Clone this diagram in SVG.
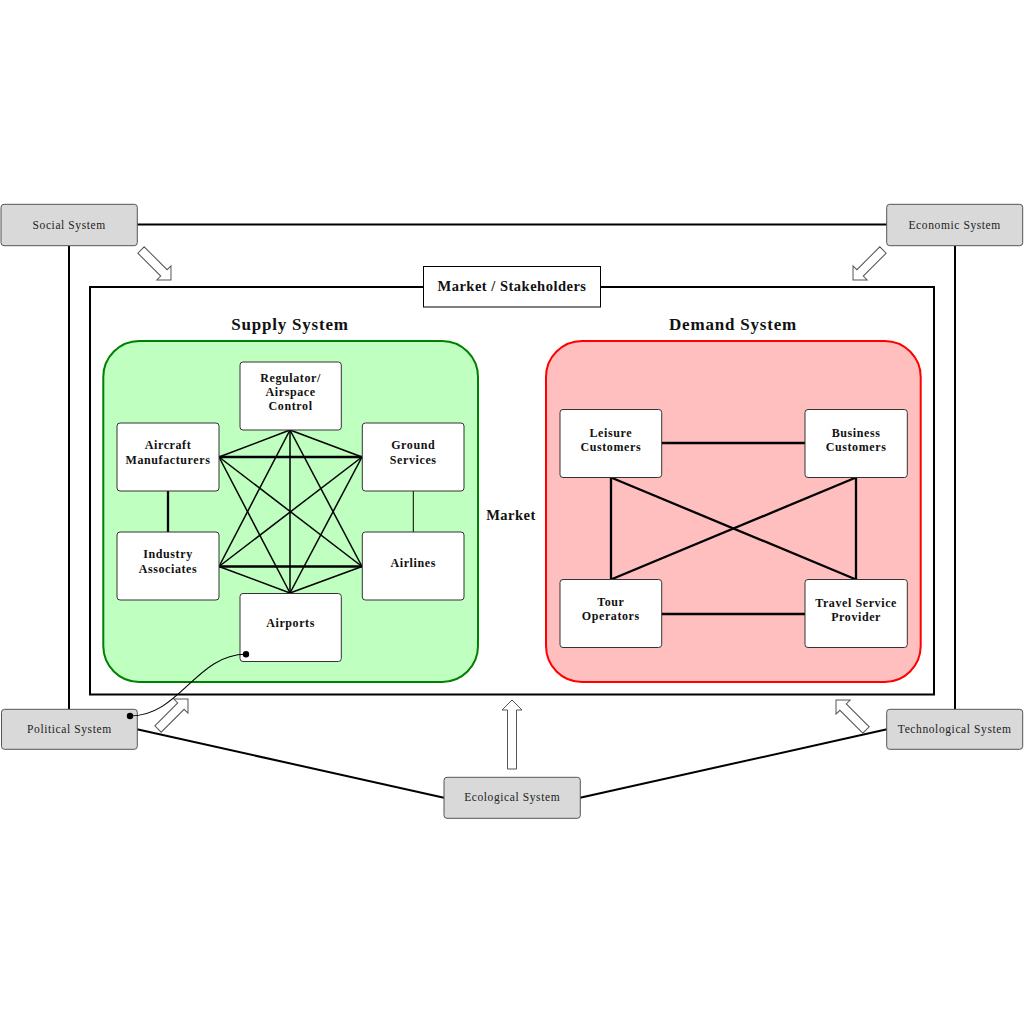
<svg xmlns="http://www.w3.org/2000/svg" width="1024" height="1024" viewBox="0 0 1024 1024">
<style>
.sys{fill:#d9d9d9;stroke:#555;stroke-width:1}
.syst{font-family:"Liberation Serif",serif;font-size:11.5px;letter-spacing:0.6px;fill:#222;text-anchor:middle}
.node{fill:#fff;stroke:#333;stroke-width:1}
.nt{font-family:"Liberation Serif",serif;font-weight:bold;font-size:12px;letter-spacing:0.6px;fill:#111;text-anchor:middle}
.title{font-family:"Liberation Serif",serif;font-weight:bold;font-size:17px;letter-spacing:0.8px;fill:#111;text-anchor:middle}
.lbl{font-family:"Liberation Serif",serif;font-weight:bold;font-size:14.5px;letter-spacing:0.5px;fill:#111;text-anchor:middle}
.ln{stroke:#000;stroke-width:2;fill:none}
.e{stroke:#000;stroke-width:1.5;fill:none}
.ek{stroke:#000;stroke-width:2.3;fill:none}
.arr{fill:#fff;stroke:#555;stroke-width:1}
</style>
<defs>
<polygon id="arrS" class="arr" points="0,-4.5 32.4,-4.5 32.4,-10 42.4,0 32.4,10 32.4,4.5 0,4.5"/>
<polygon id="arrL" class="arr" points="0,-4.5 59,-4.5 59,-10 69,0 59,10 59,4.5 0,4.5"/>
</defs>

<g id="connectors">
<line class="ln" x1="137" y1="224.5" x2="887" y2="224.5"/>
<line class="ln" x1="69" y1="245.5" x2="69" y2="709"/>
<line class="ln" x1="955" y1="245.5" x2="955" y2="709"/>
<line class="ln" x1="137" y1="729.3" x2="444" y2="797.7"/>
<line class="ln" x1="887" y1="729.3" x2="580" y2="797.7"/>
<use href="#arrS" transform="translate(141,250) rotate(45)"/>
<use href="#arrS" transform="translate(883,250) rotate(135)"/>
<use href="#arrS" transform="translate(158,729) rotate(-45)"/>
<use href="#arrS" transform="translate(866,730) rotate(-135)"/>
<use href="#arrL" transform="translate(512,769) rotate(-90)"/>
</g>

<g id="frame">
<rect x="90" y="287" width="844" height="407.5" fill="none" stroke="#000" stroke-width="2"/>
</g>
<g id="market-stakeholders">
<rect x="423.5" y="266.5" width="177" height="40.5" fill="#fff" stroke="#000" stroke-width="1"/>
<text class="lbl" x="512" y="291">Market / Stakeholders</text>
</g>

<g id="supply-system">
<rect x="103.3" y="341" width="374.7" height="341" rx="36" fill="#bfffbf" stroke="#008000" stroke-width="2"/>
<text class="title" x="290" y="330">Supply System</text>
</g>
<g id="demand-system">
<rect x="546" y="341" width="374.7" height="341" rx="36" fill="#ffbfbf" stroke="#ff0000" stroke-width="2"/>
<text class="title" x="733" y="330">Demand System</text>
</g>
<g id="market-label"><text class="lbl" x="511" y="520">Market</text></g>

<g id="supply-edges">
<line class="e" x1="290" y1="430" x2="219" y2="457"/>
<line class="e" x1="290" y1="430" x2="362" y2="457"/>
<line class="e" x1="290" y1="430" x2="219" y2="566.5"/>
<line class="e" x1="290" y1="430" x2="362" y2="566.5"/>
<line class="e" x1="290" y1="430" x2="290" y2="593"/>
<line class="ek" x1="219" y1="457" x2="362" y2="457"/>
<line class="e" x1="219" y1="457" x2="362" y2="566.5"/>
<line class="e" x1="219" y1="457" x2="290" y2="593"/>
<line class="e" x1="362" y1="457" x2="219" y2="566.5"/>
<line class="e" x1="362" y1="457" x2="290" y2="593"/>
<line class="ek" x1="219" y1="566.5" x2="362" y2="566.5"/>
<line class="e" x1="219" y1="566.5" x2="290" y2="593"/>
<line class="e" x1="362" y1="566.5" x2="290" y2="593"/>
<line class="ek" x1="168" y1="491" x2="168" y2="532"/>
<line stroke="#000" stroke-width="1" x1="413.3" y1="491" x2="413.3" y2="532"/>
</g>

<g id="demand-edges">
<line class="ek" x1="661.7" y1="443" x2="805" y2="443"/>
<line class="ek" x1="661.7" y1="614" x2="805" y2="614"/>
<line class="ek" x1="611" y1="477.5" x2="611" y2="579.5"/>
<line class="ek" x1="856" y1="477.5" x2="856" y2="579.5"/>
<line class="ek" x1="611" y1="477.5" x2="856" y2="579.5"/>
<line class="ek" x1="856" y1="477.5" x2="611" y2="579.5"/>
</g>

<g id="regulator">
<rect class="node" x="240" y="362" width="101.3" height="68" rx="3"/>
<text class="nt" x="290.6" y="381.5">Regulator/</text>
<text class="nt" x="290.6" y="395.5">Airspace</text>
<text class="nt" x="290.6" y="410">Control</text>
</g>
<g id="aircraft-manufacturers">
<rect class="node" x="117" y="423" width="102" height="68" rx="3"/>
<text class="nt" x="168" y="449">Aircraft</text>
<text class="nt" x="168" y="464">Manufacturers</text>
</g>
<g id="ground-services">
<rect class="node" x="362.3" y="423" width="101.7" height="68" rx="3"/>
<text class="nt" x="413.2" y="449">Ground</text>
<text class="nt" x="413.2" y="464">Services</text>
</g>
<g id="industry-associates">
<rect class="node" x="117" y="532" width="102" height="68" rx="3"/>
<text class="nt" x="168" y="558">Industry</text>
<text class="nt" x="168" y="573">Associates</text>
</g>
<g id="airlines">
<rect class="node" x="362.3" y="532" width="101.7" height="68" rx="3"/>
<text class="nt" x="413.2" y="566.5">Airlines</text>
</g>
<g id="airports">
<rect class="node" x="240" y="593.5" width="101.3" height="68" rx="3"/>
<text class="nt" x="290.6" y="626.5">Airports</text>
</g>

<g id="leisure-customers">
<rect class="node" x="560" y="409.5" width="101.7" height="68" rx="3"/>
<text class="nt" x="610.8" y="436.5">Leisure</text>
<text class="nt" x="610.8" y="450.5">Customers</text>
</g>
<g id="business-customers">
<rect class="node" x="805" y="409.5" width="102.3" height="68" rx="3"/>
<text class="nt" x="856.1" y="436.5">Business</text>
<text class="nt" x="856.1" y="450.5">Customers</text>
</g>
<g id="tour-operators">
<rect class="node" x="560" y="579.5" width="101.7" height="68" rx="3"/>
<text class="nt" x="610.8" y="606">Tour</text>
<text class="nt" x="610.8" y="620">Operators</text>
</g>
<g id="travel-service-provider">
<rect class="node" x="805" y="579.5" width="102.3" height="68" rx="3"/>
<text class="nt" x="856.1" y="606.5">Travel Service</text>
<text class="nt" x="856.1" y="620.5">Provider</text>
</g>

<g id="social-system">
<rect class="sys" x="1" y="204.3" width="136.3" height="41.4" rx="3"/>
<text class="syst" x="69.2" y="228.5">Social System</text>
</g>
<g id="economic-system">
<rect class="sys" x="886.7" y="204.3" width="136" height="41.4" rx="3"/>
<text class="syst" x="954.7" y="228.5">Economic System</text>
</g>
<g id="political-system">
<rect class="sys" x="1.5" y="709.3" width="135.8" height="40" rx="3"/>
<text class="syst" x="69.4" y="732.5">Political System</text>
</g>
<g id="technological-system">
<rect class="sys" x="886.7" y="709.3" width="136" height="40" rx="3"/>
<text class="syst" x="954.7" y="732.5">Technological System</text>
</g>
<g id="ecological-system">
<rect class="sys" x="444" y="777.3" width="136.3" height="41" rx="3"/>
<text class="syst" x="512.2" y="801">Ecological System</text>
</g>

<g id="airports-political-link">
<path d="M246,654.3 C196,654.3 180,716 130,716" fill="none" stroke="#000" stroke-width="1.1"/>
<circle cx="246" cy="654.3" r="3.2" fill="#000"/>
<circle cx="130" cy="716" r="3.2" fill="#000"/>
</g>
</svg>
